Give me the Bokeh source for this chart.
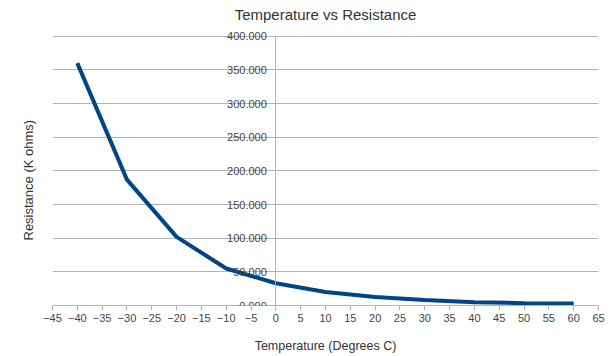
from bokeh.plotting import figure
from bokeh.models import FixedTicker, Range1d, NumeralTickFormatter, Title
from bokeh.embed import file_html
from bokeh.resources import INLINE

temps = [-40, -30, -20, -10, 0, 10, 20, 30, 40, 50, 60]
resistance = [360, 187, 102, 55, 33, 20, 12.5, 8, 5, 3.5, 2.8]
x_ticks = list(range(-45, 70, 5))
y_ticks = [0, 50, 100, 150, 200, 250, 300, 350, 400]

FONT = "Liberation Sans"
GRID = "#b3b3b3"

p = figure(width=610, height=355, output_backend="svg", toolbar_location=None,
           x_range=Range1d(-45, 65), y_range=Range1d(0, 410),
           min_border_left=52, min_border_right=12, min_border_top=29, min_border_bottom=50)
p.title.text = "Temperature vs Resistance"
p.title.align = "center"
p.title.vertical_align = "top"
p.title.standoff = 10
p.title.text_font = FONT
p.title.text_font_size = "15px"
p.title.text_font_style = "normal"
p.title.text_color = "#333333"

# plot-area border drawn by grids bounded to the 0..400 data area
p.outline_line_color = None
p.xgrid.ticker = FixedTicker(ticks=[x_ticks[0], x_ticks[-1]])
p.xgrid.bounds = (y_ticks[0], y_ticks[-1])
p.xgrid.grid_line_color = GRID
p.ygrid.grid_line_color = GRID
p.ygrid.ticker = FixedTicker(ticks=y_ticks)

p.line(temps, resistance, line_color="#004586", line_width=4)

xa = p.xaxis[0]
xa.ticker = FixedTicker(ticks=x_ticks)
xa.axis_line_color = GRID
xa.major_tick_line_color = GRID
xa.major_tick_out = 5
xa.major_tick_in = 0
xa.minor_tick_line_color = None
xa.major_label_text_font = FONT
xa.major_label_text_font_size = "11px"
xa.major_label_text_color = "#444444"
xa.major_label_standoff = 3
xa.axis_label = "Temperature (Degrees C)"
xa.axis_label_text_font = FONT
xa.axis_label_text_font_size = "12.5px"
xa.axis_label_text_font_style = "normal"
xa.axis_label_text_color = "#333333"
xa.axis_label_standoff = 14

ya = p.yaxis[0]
ya.fixed_location = 0
ya.bounds = (y_ticks[0], y_ticks[-1])
ya.ticker = FixedTicker(ticks=y_ticks)
ya.formatter = NumeralTickFormatter(format="0.000")
ya.axis_line_color = GRID
ya.major_tick_line_color = None
ya.minor_tick_line_color = None
ya.major_label_text_font = FONT
ya.major_label_text_font_size = "11px"
ya.major_label_text_color = "#444444"
ya.major_label_standoff = 3

ylab = Title(text="Resistance (K ohms)", align="left", offset=65,
             vertical_align="top", standoff=30, text_font=FONT, text_font_size="13px",
             text_font_style="normal", text_color="#333333")
p.add_layout(ylab, "left")

open("out.html", "w").write(file_html(p, INLINE))
